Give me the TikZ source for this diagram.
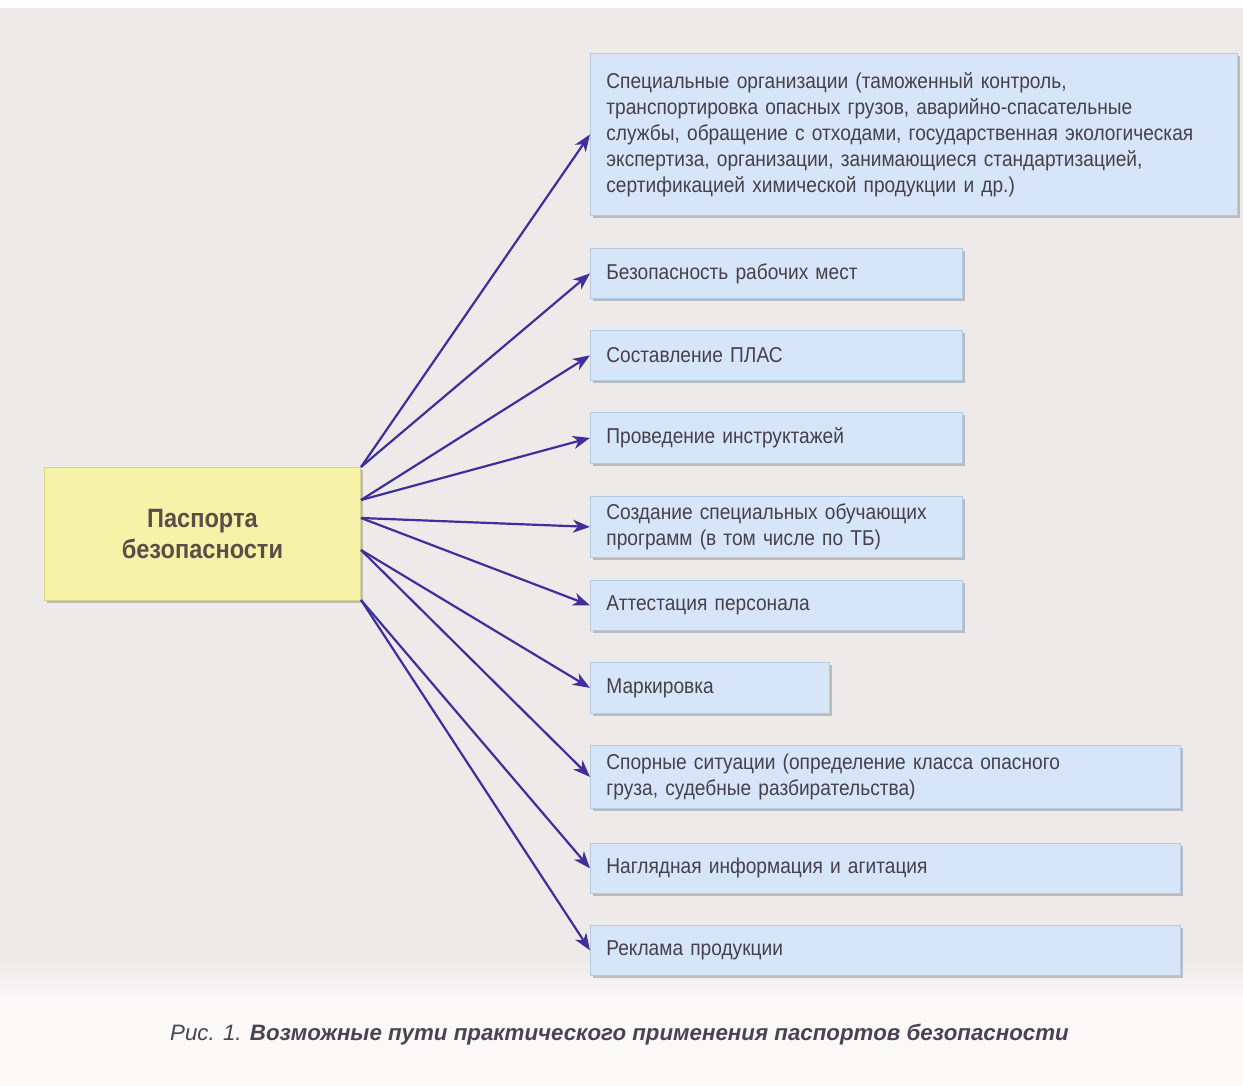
\documentclass[tikz,border=0pt]{standalone}
\usepackage{fontspec}
\setmainfont{Liberation Sans}[FakeStretch=0.89]
\newfontfamily\capfont{Liberation Sans}
\usetikzlibrary{arrows.meta,shadows}
\definecolor{bgc}{HTML}{EEEAE9}
\definecolor{boxfill}{HTML}{D6E6F8}
\definecolor{boxline}{HTML}{B3CAE4}
\definecolor{yelfill}{HTML}{F6F2A8}
\definecolor{yelline}{HTML}{D9D38A}
\definecolor{arrc}{HTML}{3E309A}
\definecolor{txtc}{HTML}{45404C}
\definecolor{captc}{HTML}{4A4352}
\tikzset{
  bluebox/.style={draw=boxline, line width=0.8pt, fill=boxfill, anchor=north west,
    inner xsep=16pt, inner ysep=0pt, align=left, text=txtc,
    font=\fontsize{21.5}{26}\selectfont,
    drop shadow={shadow xshift=2.5pt, shadow yshift=-3pt, fill=black!45, opacity=0.5}},
  yelbox/.style={draw=yelline, line width=0.8pt, fill=yelfill, anchor=north west,
    inner sep=0pt, align=center, text=txtc!80!brown,
    font=\fontsize{26.5}{31}\selectfont\bfseries,
    drop shadow={shadow xshift=2.5pt, shadow yshift=-3pt, fill=black!45, opacity=0.5}},
  conn/.style={draw=arrc, line width=2.2pt, -{Stealth[length=17pt,width=13pt,inset=5pt]}}
}
\begin{document}
\begin{tikzpicture}[x=1pt,y=-1pt]
\fill[bgc] (0,0) rectangle (1243,1086);
\fill[white] (0,0) rectangle (1243,8);
\shade[top color=bgc, bottom color=white!70!bgc] (0,960) rectangle (1243,1000);
\fill[white!70!bgc] (0,999) rectangle (1243,1086);
\useasboundingbox (0,0) rectangle (1243,1086);

\node[bluebox, minimum width=647pt, minimum height=162pt, text width=615pt] (b1) at (590,53)
 {Специальные организации (таможенный контроль,\\
  транспортировка опасных грузов, аварийно-спасательные\\
  службы, обращение с отходами, государственная экологическая\\
  экспертиза, организации, занимающиеся стандартизацией,\\
  сертификацией химической продукции и др.)};
\node[bluebox, minimum width=372pt, minimum height=50pt, text width=340pt] (b2) at (590,248) {Безопасность рабочих мест};
\node[bluebox, minimum width=372pt, minimum height=50pt, text width=340pt] (b3) at (590,330) {Составление ПЛАС};
\node[bluebox, minimum width=372pt, minimum height=51pt, text width=340pt] (b4) at (590,412) {Проведение инструктажей};
\node[bluebox, minimum width=372pt, minimum height=61pt, text width=340pt] (b5) at (590,496) {Создание специальных обучающих\\программ (в том числе по ТБ)};
\node[bluebox, minimum width=372pt, minimum height=50pt, text width=340pt] (b6) at (590,580) {Аттестация персонала};
\node[bluebox, minimum width=239pt, minimum height=51pt, text width=207pt] (b7) at (590,662) {Маркировка};
\node[bluebox, minimum width=590pt, minimum height=63pt, text width=558pt] (b8) at (590,745) {Спорные ситуации (определение класса опасного\\груза, судебные разбирательства)};
\node[bluebox, minimum width=590pt, minimum height=50pt, text width=558pt] (b9) at (590,843) {Наглядная информация и агитация};
\node[bluebox, minimum width=590pt, minimum height=50pt, text width=558pt] (b10) at (590,925) {Реклама продукции};

\node[yelbox, minimum width=316pt, minimum height=133pt, text width=316pt] (p) at (44,467) {Паспорта\\безопасности};

\coordinate (s1) at (361,467);
\coordinate (s2) at (361,500);
\coordinate (s3) at (361,518);
\coordinate (s4) at (361,550);
\coordinate (s5) at (361,600);

\draw[conn] (s1) -- (b1.west);
\draw[conn] (s1) -- (b2.west);
\draw[conn] (s2) -- (b3.west);
\draw[conn] (s2) -- (b4.west);
\draw[conn] (s3) -- (b5.west);
\draw[conn] (s3) -- (b6.west);
\draw[conn] (s4) -- (b7.west);
\draw[conn] (s4) -- (b8.west);
\draw[conn] (s5) -- (b9.west);
\draw[conn] (s5) -- (b10.west);

\node[anchor=base west, text=captc, font=\capfont\fontsize{22.3}{26}\selectfont, inner sep=0pt] (cap) at (170,1040)
 {\itshape Рис. 1. \bfseries Возможные пути практического применения паспортов безопасности};
\end{tikzpicture}
\end{document}
